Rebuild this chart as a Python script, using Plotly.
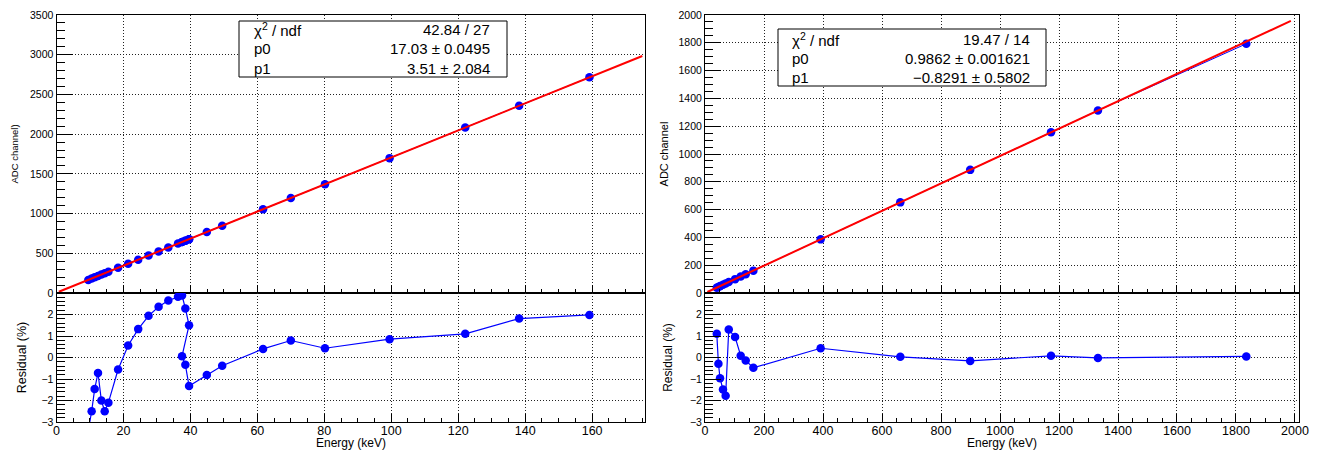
import plotly.graph_objects as go

# ---------------- data ----------------
left_energy = [9.5, 10.5, 11.4, 12.4, 13.4, 14.4, 15.5, 18.4, 21.4, 24.4, 27.5, 30.5,
               33.4, 36.3, 37.5, 38.5, 39.6, 37.5, 38.5, 39.6, 44.9, 49.5, 61.7, 70.0,
               80.2, 99.5, 122.1, 138.2, 159.2]
left_adc = [165, 182, 198, 215, 232, 249, 268, 317, 368, 419, 472, 523,
            572, 622, 642, 659, 678, 642, 659, 678, 768, 846, 1054, 1196,
            1369, 1698, 2083, 2357, 2715]
left_resid = [-3.4, -2.5, -1.47, -0.72, -2.0, -2.5, -2.1, -0.56, 0.56, 1.32, 1.94, 2.36,
              2.65, 2.83, 2.88, 2.28, 1.5, 0.06, -0.34, -1.33, -0.81, -0.38, 0.40, 0.79,
              0.43, 0.85, 1.10, 1.81, 1.98]
left_p0, left_p1 = 17.03, 3.51
left_fit_range = [0.7, 175.0]
left_stats = [("χ<sup>2</sup> / ndf", "42.84 / 27"),
              ("p0", "17.03 ± 0.0495"),
              ("p1", "3.51 ± 2.084")]

right_energy = [40, 45.5, 51, 61, 70, 80.5, 102, 121, 138, 164, 392, 662, 899, 1173, 1332, 1835]
right_adc = [38.6, 44.0, 49.5, 59.3, 68.2, 78.6, 99.8, 118.5, 135.3, 160.9, 385.8, 652.0,
             885.8, 1156, 1313, 1793]
right_resid = [1.1, -0.29, -0.96, -1.49, -1.78, 1.3, 0.95, 0.08, -0.14, -0.48, 0.43, 0.03,
               -0.16, 0.08, -0.02, 0.05]
right_p0, right_p1 = 0.9862, -0.8291
right_fit_range = [8, 1986]
right_stats = [("χ<sup>2</sup> / ndf", "19.47 / 14"),
               ("p0", "0.9862 ± 0.001621"),
               ("p1", "\u22120.8291 ± 0.5802")]

resid_ticks = [-3, -2, -1, 0, 1, 2]

# ---------------- figure ----------------
# the page body has an 8px default margin: size the figure so that it fills the window
OFF = 8
W, H = 1318 - OFF, 453 - OFF
FONT = "Liberation Sans, Arial, Helvetica, sans-serif"
BLUE = "#0000ff"
RED = "#ff0000"


def px_x(p):
    return (p - OFF) / W


def px_y(p):
    return 1 - (p - OFF) / H


fig = go.Figure()

for (E, A, R, p0, p1, frng, xs, ys) in [
    (left_energy, left_adc, left_resid, left_p0, left_p1, left_fit_range, ("x", "x2"), ("y", "y2")),
    (right_energy, right_adc, right_resid, right_p0, right_p1, right_fit_range, ("x3", "x4"), ("y3", "y4")),
]:
    fig.add_trace(go.Scatter(x=E, y=A, mode="lines+markers", xaxis=xs[0], yaxis=ys[0],
                             line=dict(color=BLUE, width=1),
                             marker=dict(color=BLUE, size=8.5), showlegend=False))
    fit_y = [p0 * v + p1 for v in frng]
    fig.add_trace(go.Scatter(x=frng, y=fit_y, mode="lines", xaxis=xs[0], yaxis=ys[0],
                             line=dict(color=RED, width=2), showlegend=False))
    fig.add_trace(go.Scatter(x=E, y=R, mode="lines+markers", xaxis=xs[1], yaxis=ys[1],
                             line=dict(color=BLUE, width=1.2),
                             marker=dict(color=BLUE, size=8.5), showlegend=False))

common = dict(showline=True, linecolor="black", linewidth=1, mirror=True,
              ticks="inside", tickcolor="black", tickwidth=1,
              showgrid=True, gridcolor="#222222", griddash="1px,2px", gridwidth=1,
              zeroline=False, automargin=False)

xl = [px_x(56.5), px_x(645)]
xr = [px_x(705), px_x(1299.3)]
y_top = [px_y(293), px_y(15)]
y_res = [px_y(422), px_y(293)]

xtick_font = dict(family=FONT, size=12.5, color="black")
ytick_font = dict(family=FONT, size=10.5, color="black")

xminor = lambda d: dict(ticks="inside", ticklen=4, dtick=d, tickcolor="black", showgrid=False)
yminor = lambda d: dict(ticks="inside", ticklen=8, dtick=d, tickcolor="black", showgrid=False)

fig.update_layout(
    width=W, height=H,
    margin=dict(l=0, r=0, t=0, b=0),
    paper_bgcolor="white", plot_bgcolor="white",
    font=dict(family=FONT, color="black"),
    # left top
    xaxis=dict(common, domain=xl, anchor="y", range=[0, 175.8], dtick=20, tick0=0,
               ticklen=8, minor=xminor(5), showticklabels=False),
    yaxis=dict(common, domain=y_top, anchor="x", range=[0, 3500], dtick=500, tick0=0,
               ticklen=16, minor=yminor(100), tickfont=ytick_font,
               title=dict(text="ADC channel)", font=dict(family=FONT, size=9.5), standoff=9)),
    # left residual
    xaxis2=dict(common, domain=xl, anchor="y2", range=[0, 175.8], dtick=20, tick0=0,
                ticklen=8, minor=xminor(5), tickfont=xtick_font, ticklabelstandoff=-3),
    yaxis2=dict(common, domain=y_res, anchor="x2", range=[-3, 3], tickvals=resid_ticks,
                ticktext=[str(v).replace("-", "\u2212") for v in resid_ticks],
                ticklen=16, minor=yminor(0.2), tickfont=ytick_font,
                title=dict(text="Residual (%)", font=dict(family=FONT, size=12.5), standoff=12)),
    # right top
    xaxis3=dict(common, domain=xr, anchor="y3", range=[0, 2014.6], dtick=200, tick0=0,
                ticklen=8, minor=xminor(50), showticklabels=False),
    yaxis3=dict(common, domain=y_top, anchor="x3", range=[0, 2000], dtick=200, tick0=0,
                ticklen=16, minor=yminor(50), tickfont=ytick_font,
                title=dict(text="ADC channel", font=dict(family=FONT, size=11), standoff=7)),
    # right residual
    xaxis4=dict(common, domain=xr, anchor="y4", range=[0, 2014.6], dtick=200, tick0=0,
                ticklen=8, minor=xminor(50), tickfont=xtick_font, ticklabelstandoff=-3),
    yaxis4=dict(common, domain=y_res, anchor="x4", range=[-3, 3], tickvals=resid_ticks,
                ticktext=[str(v).replace("-", "\u2212") for v in resid_ticks],
                ticklen=16, minor=yminor(0.2), tickfont=ytick_font,
                title=dict(text="Residual (%)", font=dict(family=FONT, size=12), standoff=14)),
)

# x-axis titles (placed explicitly, centred under each residual panel)
for cx in [(56.5 + 645) / 2, (705 + 1299.3) / 2]:
    fig.add_annotation(xref="paper", yref="paper", x=px_x(cx), y=px_y(443),
                       text="Energy (keV)", showarrow=False, xanchor="center", yanchor="middle",
                       font=dict(family=FONT, size=12, color="black"))

# ---------------- stats boxes ----------------
boxes = [
    (left_stats, (239, 21, 507, 77), 252, 492, [30, 49, 68]),
    (right_stats, (778, 29, 1046, 86), 790, 1032, [39, 58, 77]),
]
for stats, (x0, y0, x1, y1), xname, xval, rows in boxes:
    fig.add_shape(type="rect", xref="paper", yref="paper",
                  x0=px_x(x0), x1=px_x(x1), y0=px_y(y1), y1=px_y(y0),
                  line=dict(color="black", width=1), fillcolor="white", layer="above")
    for (name, val), ry in zip(stats, rows):
        fig.add_annotation(xref="paper", yref="paper", x=px_x(xname), y=px_y(ry),
                           text=name, showarrow=False, xanchor="left", yanchor="middle",
                           font=dict(family=FONT, size=15, color="black"))
        fig.add_annotation(xref="paper", yref="paper", x=px_x(xval), y=px_y(ry),
                           text=val, showarrow=False, xanchor="right", yanchor="middle",
                           font=dict(family=FONT, size=15, color="black"))

fig.write_html("out.html")
